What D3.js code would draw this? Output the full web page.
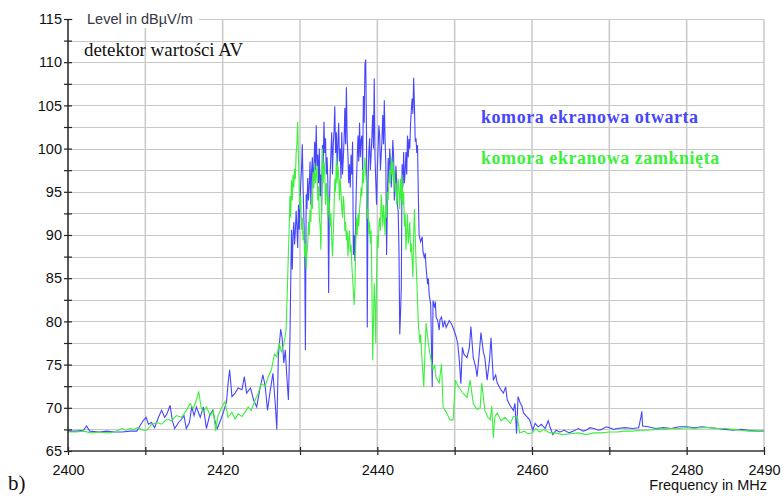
<!DOCTYPE html>
<html>
<head>
<meta charset="utf-8">
<script src="https://cdn.jsdelivr.net/npm/d3@7"></script>
<style>
  html, body { margin: 0; padding: 0; background: #fff; }
  svg { display: block; }
</style>
</head>
<body>
<div id="chart"></div>
<script>
// axis settings
const freqDomain = [2400, 2490];
const levelDomain = [65, 115];
const freqTickLabels = [2400, 2420, 2440, 2460, 2480, 2490];
const freqTicks = [2400, 2410, 2420, 2430, 2440, 2450, 2460, 2470, 2480, 2490];
const levelTickLabels = [65, 70, 75, 80, 85, 90, 95, 100, 105, 110, 115];

// "komora ekranowa otwarta" (blue): [MHz, dBuV/m]
const openTrace = [
  [2400.0, 67.3], [2401.0, 67.3], [2402.0, 67.4], [2402.4, 67.9], [2402.8, 67.3], [2404.0, 67.2],
  [2405.0, 67.3], [2406.0, 67.2], [2407.0, 67.2], [2408.0, 67.3], [2408.9, 67.3], [2409.3, 67.9],
  [2409.7, 68.5], [2410.1, 68.9], [2410.4, 68.1], [2410.8, 68.3], [2411.2, 67.7], [2411.7, 68.9],
  [2412.1, 69.7], [2412.5, 68.9], [2412.8, 69.3], [2413.2, 70.3], [2413.5, 68.5], [2413.8, 67.6],
  [2414.3, 68.3], [2414.7, 68.7], [2415.0, 69.1], [2415.3, 67.6], [2415.7, 68.3], [2416.0, 70.1],
  [2416.3, 69.1], [2416.6, 70.1], [2417.1, 68.9], [2417.5, 70.1], [2417.9, 67.6], [2418.3, 69.1],
  [2418.7, 69.7], [2419.0, 68.5], [2419.3, 67.6], [2419.7, 68.5], [2420.1, 69.5], [2420.5, 70.7],
  [2420.7, 72.8], [2420.9, 74.4], [2421.2, 71.3], [2421.6, 71.7], [2422.0, 72.3], [2422.5, 72.1],
  [2422.8, 73.6], [2423.1, 71.7], [2423.6, 72.3], [2424.0, 70.9], [2424.4, 70.1], [2424.8, 72.1],
  [2425.2, 73.8], [2425.5, 72.5], [2425.8, 69.7], [2426.1, 71.7], [2426.5, 74.0], [2426.8, 70.5],
  [2427.0, 67.5], [2427.2, 76.0], [2427.5, 79.1], [2427.7, 78.0], [2427.9, 75.2], [2428.1, 76.7],
  [2428.3, 73.6], [2428.5, 70.9], [2428.7, 78.1], [2428.9, 90.6], [2429.0, 86.0], [2429.1, 90.0],
  [2429.2, 91.5], [2429.3, 88.9], [2429.4, 90.5], [2429.5, 92.8], [2429.6, 91.0], [2429.7, 88.5],
  [2429.8, 93.5], [2429.9, 90.6], [2430.0, 94.0], [2430.1, 96.0], [2430.2, 97.7], [2430.3, 100.5],
  [2430.4, 95.5], [2430.5, 92.0], [2430.6, 89.0], [2430.7, 76.7], [2430.8, 94.7], [2430.9, 93.0],
  [2431.0, 96.6], [2431.1, 94.0], [2431.2, 95.8], [2431.3, 98.5], [2431.4, 93.5], [2431.5, 97.4],
  [2431.6, 99.0], [2431.7, 95.4], [2431.8, 98.0], [2431.9, 100.8], [2432.0, 97.5], [2432.1, 102.7],
  [2432.2, 98.0], [2432.3, 99.3], [2432.4, 96.0], [2432.5, 100.0], [2432.6, 94.5], [2432.7, 97.0],
  [2432.8, 92.5], [2432.9, 100.4], [2433.0, 98.0], [2433.1, 103.1], [2433.2, 99.5], [2433.3, 101.2],
  [2433.4, 97.0], [2433.5, 99.0], [2433.6, 96.2], [2433.7, 83.3], [2433.8, 93.0], [2433.9, 97.0],
  [2434.0, 99.5], [2434.1, 101.9], [2434.2, 97.0], [2434.3, 100.4], [2434.4, 102.0], [2434.5, 104.9],
  [2434.6, 99.5], [2434.7, 101.9], [2434.8, 98.0], [2434.9, 100.5], [2435.0, 103.0], [2435.1, 98.5],
  [2435.2, 100.0], [2435.3, 96.5], [2435.4, 101.9], [2435.5, 97.0], [2435.6, 98.9], [2435.7, 101.0],
  [2435.8, 104.7], [2435.9, 100.5], [2436.0, 107.1], [2436.1, 101.0], [2436.2, 99.3], [2436.3, 96.0],
  [2436.4, 98.2], [2436.5, 95.5], [2436.6, 99.3], [2436.7, 97.0], [2436.8, 100.8], [2436.9, 87.7],
  [2437.0, 90.0], [2437.1, 87.0], [2437.2, 92.0], [2437.3, 96.2], [2437.4, 99.0], [2437.5, 101.5],
  [2437.6, 98.5], [2437.7, 103.0], [2437.8, 99.0], [2437.9, 101.0], [2438.0, 101.5], [2438.1, 97.5],
  [2438.2, 106.1], [2438.3, 103.0], [2438.4, 109.8], [2438.5, 110.3], [2438.6, 101.9], [2438.7, 79.3],
  [2438.8, 96.0], [2438.9, 99.6], [2439.0, 101.2], [2439.1, 97.5], [2439.2, 99.3], [2439.3, 101.5],
  [2439.4, 103.9], [2439.5, 100.0], [2439.6, 108.1], [2439.7, 99.0], [2439.8, 96.2], [2439.9, 93.5],
  [2440.0, 97.7], [2440.1, 100.0], [2440.2, 102.7], [2440.3, 101.5], [2440.4, 97.5], [2440.5, 99.3],
  [2440.6, 101.0], [2440.7, 103.9], [2440.8, 100.5], [2440.9, 105.6], [2441.0, 101.0], [2441.1, 98.2],
  [2441.2, 87.7], [2441.3, 94.0], [2441.4, 98.9], [2441.5, 96.0], [2441.6, 100.0], [2441.7, 98.5],
  [2441.8, 95.5], [2441.9, 97.4], [2442.0, 101.0], [2442.1, 99.3], [2442.2, 94.0], [2442.3, 95.4],
  [2442.4, 98.0], [2442.5, 96.2], [2442.6, 93.5], [2442.7, 92.7], [2442.8, 88.0], [2442.9, 78.5],
  [2443.0, 81.0], [2443.1, 83.9], [2443.2, 98.2], [2443.3, 95.5], [2443.4, 99.6], [2443.5, 96.0],
  [2443.6, 97.4], [2443.7, 99.6], [2443.8, 97.0], [2443.9, 101.5], [2444.0, 99.0], [2444.1, 101.1],
  [2444.2, 100.0], [2444.3, 103.0], [2444.4, 104.5], [2444.5, 105.8], [2444.6, 104.0], [2444.7, 108.2],
  [2444.8, 105.0], [2444.9, 100.8], [2445.0, 101.2], [2445.1, 99.5], [2445.2, 100.4], [2445.3, 94.6],
  [2445.4, 90.0], [2445.6, 89.2], [2445.8, 89.8], [2445.9, 88.1], [2446.1, 87.3], [2446.2, 87.9],
  [2446.3, 86.2], [2446.5, 84.3], [2446.6, 85.0], [2446.7, 83.1], [2446.9, 82.0], [2447.1, 72.4],
  [2447.2, 82.4], [2447.4, 81.6], [2447.5, 82.3], [2447.6, 80.5], [2447.8, 80.1], [2448.0, 79.0],
  [2448.1, 80.2], [2448.3, 80.5], [2448.5, 79.3], [2448.7, 80.1], [2448.9, 79.3], [2449.1, 79.7],
  [2449.3, 80.1], [2449.6, 79.7], [2449.9, 79.0], [2450.2, 78.2], [2450.4, 77.4], [2450.6, 75.5],
  [2450.8, 72.8], [2451.0, 77.0], [2451.2, 76.2], [2451.6, 75.8], [2451.9, 77.0], [2452.1, 79.4],
  [2452.4, 75.8], [2452.7, 74.8], [2452.9, 73.6], [2453.2, 76.5], [2453.4, 78.7], [2453.7, 76.5],
  [2453.9, 75.8], [2454.2, 73.2], [2454.5, 75.5], [2454.7, 78.1], [2455.0, 73.2], [2455.3, 73.8],
  [2455.5, 72.9], [2455.9, 72.2], [2456.3, 71.7], [2456.6, 72.4], [2456.8, 70.9], [2457.2, 70.2],
  [2457.6, 69.7], [2457.8, 70.5], [2458.0, 67.0], [2458.2, 71.3], [2458.5, 70.5], [2458.7, 70.2],
  [2458.9, 69.4], [2459.3, 69.0], [2459.7, 68.6], [2460.1, 67.4], [2460.4, 68.2], [2460.8, 67.8],
  [2461.2, 68.1], [2461.7, 67.6], [2462.1, 68.5], [2462.4, 67.6], [2462.7, 66.9], [2463.1, 67.4],
  [2463.6, 67.2], [2464.2, 67.4], [2464.8, 67.1], [2465.3, 67.3], [2466.0, 67.6], [2466.6, 67.3],
  [2467.0, 67.4], [2467.5, 67.7], [2468.0, 67.6], [2468.6, 67.4], [2469.0, 67.5], [2469.6, 67.8],
  [2470.0, 67.7], [2470.6, 67.5], [2471.0, 67.6], [2472.0, 67.7], [2473.0, 67.6], [2473.8, 67.7],
  [2474.1, 69.0], [2474.2, 69.6], [2474.3, 67.9], [2475.0, 67.8], [2476.0, 67.6], [2477.0, 67.7],
  [2478.0, 67.6], [2479.0, 67.8], [2480.0, 67.8], [2481.0, 67.7], [2482.0, 67.8], [2483.0, 67.7],
  [2484.0, 67.6], [2485.0, 67.5], [2486.0, 67.4], [2487.0, 67.5], [2488.0, 67.4], [2489.0, 67.3],
  [2490.0, 67.3]
];

// "komora ekranowa zamknięta" (green): [MHz, dBuV/m]
const closedTrace = [
  [2400.0, 67.2], [2401.0, 67.2], [2402.0, 67.3], [2403.0, 67.1], [2404.0, 67.2], [2405.0, 67.1],
  [2406.0, 67.2], [2407.0, 67.6], [2407.5, 67.4], [2408.0, 67.6], [2408.5, 67.5], [2409.0, 67.7],
  [2409.7, 67.4], [2410.2, 67.4], [2410.8, 68.1], [2411.5, 68.3], [2412.1, 68.1], [2412.8, 68.7],
  [2413.4, 68.5], [2414.0, 69.1], [2414.7, 68.9], [2415.3, 69.7], [2415.8, 70.5], [2416.2, 69.9],
  [2416.6, 70.9], [2416.9, 71.9], [2417.2, 70.1], [2417.5, 69.5], [2417.9, 70.1], [2418.4, 69.1],
  [2418.8, 69.7], [2419.1, 67.3], [2419.4, 69.1], [2419.9, 70.1], [2420.3, 70.7], [2420.7, 68.9],
  [2421.2, 69.5], [2421.6, 68.7], [2422.0, 69.3], [2422.5, 69.0], [2422.9, 69.5], [2423.3, 70.1],
  [2423.7, 69.7], [2424.2, 70.9], [2424.6, 71.7], [2425.0, 72.8], [2425.5, 72.5], [2425.9, 73.6],
  [2426.3, 74.4], [2426.7, 76.2], [2427.0, 75.9], [2427.3, 77.5], [2427.6, 76.5], [2427.9, 77.3],
  [2428.2, 79.0], [2428.4, 84.8], [2428.5, 88.0], [2428.6, 90.6], [2428.7, 94.5], [2428.8, 92.0],
  [2428.9, 96.4], [2429.0, 94.0], [2429.1, 97.0], [2429.2, 95.5], [2429.3, 97.7], [2429.4, 96.5],
  [2429.5, 99.5], [2429.6, 100.5], [2429.7, 103.1], [2429.8, 99.0], [2429.9, 95.4], [2430.0, 93.0],
  [2430.1, 94.5], [2430.2, 90.6], [2430.3, 92.0], [2430.4, 89.4], [2430.5, 90.5], [2430.6, 87.5],
  [2430.7, 89.0], [2430.8, 86.0], [2430.9, 88.0], [2431.0, 89.0], [2431.1, 91.5], [2431.2, 90.0],
  [2431.3, 92.9], [2431.4, 91.5], [2431.5, 94.6], [2431.6, 93.0], [2431.7, 97.3], [2431.8, 95.5],
  [2431.9, 98.3], [2432.0, 96.0], [2432.1, 97.0], [2432.2, 98.0], [2432.3, 94.0], [2432.4, 95.6],
  [2432.5, 92.0], [2432.6, 91.0], [2432.7, 88.3], [2432.8, 95.0], [2432.9, 100.0], [2433.0, 96.0],
  [2433.1, 98.5], [2433.2, 97.5], [2433.3, 93.5], [2433.4, 96.0], [2433.5, 95.0], [2433.6, 92.0],
  [2433.7, 94.5], [2433.8, 93.5], [2433.9, 91.0], [2434.0, 92.5], [2434.1, 89.5], [2434.2, 87.5],
  [2434.3, 90.0], [2434.4, 93.0], [2434.5, 96.5], [2434.6, 95.0], [2434.7, 99.0], [2434.8, 96.0],
  [2434.9, 98.0], [2435.0, 97.0], [2435.1, 94.0], [2435.2, 96.5], [2435.3, 95.0], [2435.4, 93.0],
  [2435.5, 92.0], [2435.6, 94.5], [2435.7, 93.5], [2435.8, 90.5], [2435.9, 91.5], [2436.0, 89.4],
  [2436.1, 90.5], [2436.2, 87.5], [2436.3, 89.5], [2436.4, 90.5], [2436.5, 88.0], [2436.6, 88.9],
  [2436.7, 86.5], [2436.8, 85.0], [2436.9, 83.5], [2437.0, 81.9], [2437.1, 84.0], [2437.2, 88.5],
  [2437.3, 92.0], [2437.4, 90.0], [2437.5, 92.5], [2437.6, 91.0], [2437.7, 93.0], [2437.8, 94.0],
  [2437.9, 95.5], [2438.0, 94.5], [2438.1, 97.5], [2438.2, 96.0], [2438.3, 98.0], [2438.4, 99.0],
  [2438.5, 97.0], [2438.6, 96.0], [2438.7, 91.9], [2438.8, 93.0], [2438.9, 90.1], [2439.0, 91.5],
  [2439.1, 89.0], [2439.2, 90.5], [2439.3, 84.0], [2439.4, 75.5], [2439.5, 80.0], [2439.6, 84.4],
  [2439.7, 82.0], [2439.8, 77.5], [2439.9, 85.0], [2440.0, 90.0], [2440.1, 88.5], [2440.2, 91.0],
  [2440.3, 92.0], [2440.4, 90.5], [2440.5, 94.7], [2440.6, 93.0], [2440.7, 91.0], [2440.8, 93.5],
  [2440.9, 92.0], [2441.0, 90.0], [2441.1, 93.5], [2441.2, 92.0], [2441.3, 95.0], [2441.4, 94.0],
  [2441.5, 96.5], [2441.6, 97.5], [2441.7, 96.0], [2441.8, 99.0], [2441.9, 97.0], [2442.0, 98.5],
  [2442.1, 96.0], [2442.2, 97.5], [2442.3, 95.0], [2442.4, 96.0], [2442.5, 93.5], [2442.6, 94.5],
  [2442.7, 96.5], [2442.8, 95.0], [2442.9, 93.0], [2443.0, 96.5], [2443.1, 94.0], [2443.2, 97.0],
  [2443.3, 93.5], [2443.4, 95.0], [2443.5, 91.0], [2443.6, 92.5], [2443.7, 88.3], [2443.8, 90.5],
  [2443.9, 92.4], [2444.0, 89.0], [2444.1, 90.0], [2444.2, 91.5], [2444.3, 88.0], [2444.4, 89.0],
  [2444.5, 87.0], [2444.6, 85.1], [2444.7, 90.0], [2444.8, 93.0], [2444.9, 89.8], [2445.0, 87.0],
  [2445.1, 84.8], [2445.3, 79.8], [2445.5, 77.5], [2445.6, 78.5], [2445.8, 75.2], [2446.0, 72.4],
  [2446.3, 79.8], [2446.5, 78.3], [2446.6, 77.5], [2446.9, 75.7], [2447.2, 74.4], [2447.4, 75.0],
  [2447.6, 73.5], [2448.0, 72.9], [2448.3, 75.1], [2448.5, 70.1], [2448.9, 69.5], [2449.4, 68.6],
  [2449.8, 68.6], [2450.1, 73.2], [2450.5, 72.4], [2451.0, 71.8], [2451.6, 71.2], [2452.0, 73.2],
  [2452.4, 70.5], [2452.9, 69.8], [2453.3, 70.0], [2453.5, 72.9], [2453.9, 69.7], [2454.3, 68.9],
  [2454.6, 68.6], [2454.8, 70.2], [2455.0, 66.5], [2455.2, 69.0], [2455.5, 69.4], [2456.0, 68.5],
  [2456.5, 68.9], [2457.2, 68.2], [2457.6, 69.0], [2458.1, 69.0], [2458.4, 67.1], [2459.0, 67.3],
  [2459.5, 67.0], [2460.1, 67.1], [2460.5, 67.6], [2461.0, 67.2], [2461.5, 67.5], [2462.3, 67.1],
  [2463.0, 67.1], [2464.0, 66.9], [2465.0, 67.0], [2466.0, 67.1], [2467.0, 66.9], [2468.0, 67.1],
  [2469.0, 67.1], [2470.0, 67.2], [2471.0, 67.2], [2472.0, 67.3], [2473.0, 67.3], [2474.0, 67.4],
  [2475.0, 67.4], [2476.0, 67.5], [2477.0, 67.5], [2478.0, 67.6], [2479.0, 67.6], [2480.0, 67.7],
  [2481.0, 67.6], [2482.0, 67.7], [2483.0, 67.7], [2484.0, 67.6], [2485.0, 67.6], [2486.0, 67.5],
  [2487.0, 67.4], [2488.0, 67.3], [2489.0, 67.3], [2490.0, 67.3]
];

const seriesNames = ["komora ekranowa otwarta", "komora ekranowa zamknięta"];
const seriesColors = ["#4646ff", "#3cf03c"];

function drawChart() {
    const W = 783, H = 496;
    const margin = { top: 19, right: 19, bottom: 45, left: 68 };
    const plotW = W - margin.left - margin.right;
    const plotH = H - margin.top - margin.bottom;

    const svg = d3.select("#chart").append("svg")
        .attr("width", W)
        .attr("height", H);

    const x = d3.scaleLinear().domain(freqDomain).range([0, plotW]);
    const y = d3.scaleLinear().domain(levelDomain).range([plotH, 0]);

    const g = svg.append("g")
        .attr("transform", `translate(${margin.left},${margin.top})`);

    // grid, every 2.5 dB and every 10 MHz
    const levelGrid = d3.range(levelDomain[0] + 2.5, levelDomain[1] + 0.1, 2.5);
    g.append("g")
        .selectAll("line")
        .data(levelGrid)
        .join("line")
        .attr("x1", 0).attr("x2", plotW)
        .attr("y1", d => Math.round(y(d)) + 0.5)
        .attr("y2", d => Math.round(y(d)) + 0.5)
        .attr("stroke", "#c8c8c8")
        .attr("stroke-width", 1.2);

    g.append("g")
        .selectAll("line")
        .data(freqTicks.slice(1))
        .join("line")
        .attr("x1", d => x(d)).attr("x2", d => x(d))
        .attr("y1", 0).attr("y2", plotH)
        .attr("stroke", "#cccccc")
        .attr("stroke-width", 1.6);

    // title box over the top grid line
    const title = g.append("text")
        .attr("x", 19)
        .attr("y", 4.5)
        .attr("font-family", "Liberation Sans, Arial, sans-serif")
        .attr("font-size", 14.5)
        .attr("fill", "#353545")
        .text("Level in dBµV/m");
    const tb = title.node().getBBox();
    g.insert("rect", "text")
        .attr("x", 5).attr("y", -2)
        .attr("width", tb.x + tb.width + 6 - 5)
        .attr("height", 11)
        .attr("fill", "#fff");

    // traces
    g.append("clipPath").attr("id", "plotclip")
        .append("rect").attr("x", 0).attr("y", 0)
        .attr("width", plotW).attr("height", plotH);

    const line = d3.line()
        .x(d => x(d[0]))
        .y(d => y(d[1]));

    g.append("g")
        .attr("clip-path", "url(#plotclip)")
        .selectAll("path")
        .data([openTrace, closedTrace])
        .join("path")
        .attr("d", line)
        .attr("fill", "none")
        .attr("stroke", (d, i) => seriesColors[i])
        .attr("stroke-width", 1.1)
        .attr("stroke-linejoin", "miter");

    // y axis
    const yAxis = g.append("g")
        .call(d3.axisLeft(y).tickValues(levelGrid.concat([levelDomain[0]])).tickSize(0).tickFormat(""))
        .call(a => a.select(".domain").remove());
    yAxis.selectAll(".tick line")
        .attr("x1", -4).attr("x2", 4)
        .attr("stroke", "#222").attr("stroke-width", 1.2);
    g.append("line")
        .attr("x1", 0).attr("x2", 0).attr("y1", 0).attr("y2", plotH)
        .attr("stroke", "#222").attr("stroke-width", 1.5);
    g.append("g")
        .call(d3.axisLeft(y).tickValues(levelTickLabels).tickSize(0).tickPadding(6))
        .call(a => a.select(".domain").remove())
        .selectAll("text")
        .attr("font-family", "Liberation Sans, Arial, sans-serif")
        .attr("font-size", 14.5)
        .attr("fill", "#111");

    // x axis
    const xAxis = g.append("g")
        .attr("transform", `translate(0,${plotH})`)
        .call(d3.axisBottom(x).tickValues(freqTicks).tickSize(0).tickFormat(""))
        .call(a => a.select(".domain").remove());
    xAxis.selectAll(".tick line")
        .attr("y1", -4).attr("y2", 4)
        .attr("stroke", "#222").attr("stroke-width", 1.2);
    g.append("line")
        .attr("x1", 0).attr("x2", plotW).attr("y1", plotH).attr("y2", plotH)
        .attr("stroke", "#333").attr("stroke-width", 1.5);
    g.append("g")
        .attr("transform", `translate(0,${plotH})`)
        .call(d3.axisBottom(x).tickValues(freqTickLabels).tickSize(0).tickPadding(14).tickFormat(d3.format("d")))
        .call(a => a.select(".domain").remove())
        .selectAll("text")
        .attr("font-family", "Liberation Sans, Arial, sans-serif")
        .attr("font-size", 14.5)
        .attr("fill", "#111");

    svg.append("text")
        .attr("x", 767).attr("y", 490)
        .attr("text-anchor", "end")
        .attr("font-family", "Liberation Sans, Arial, sans-serif")
        .attr("font-size", 14.5)
        .attr("fill", "#111")
        .text("Frequency in MHz");

    // annotations
    svg.append("text")
        .attr("x", 84).attr("y", 56)
        .attr("font-family", "Liberation Serif, Times New Roman, serif")
        .attr("font-size", 18.9)
        .attr("fill", "#111")
        .text("detektor wartości AV");

    svg.selectAll(".legend")
        .data(seriesNames)
        .join("text")
        .attr("class", "legend")
        .attr("x", 481)
        .attr("y", (d, i) => 123 + i * 41)
        .attr("font-family", "Liberation Serif, Times New Roman, serif")
        .attr("font-weight", "bold")
        .attr("font-size", 18)
        .attr("letter-spacing", 0.55)
        .attr("fill", (d, i) => seriesColors[i])
        .text(d => d);

    svg.append("text")
        .attr("x", 8).attr("y", 490)
        .attr("font-family", "Liberation Serif, Times New Roman, serif")
        .attr("font-size", 21)
        .attr("fill", "#111")
        .text("b)");
}

drawChart();
</script>
</body>
</html>
